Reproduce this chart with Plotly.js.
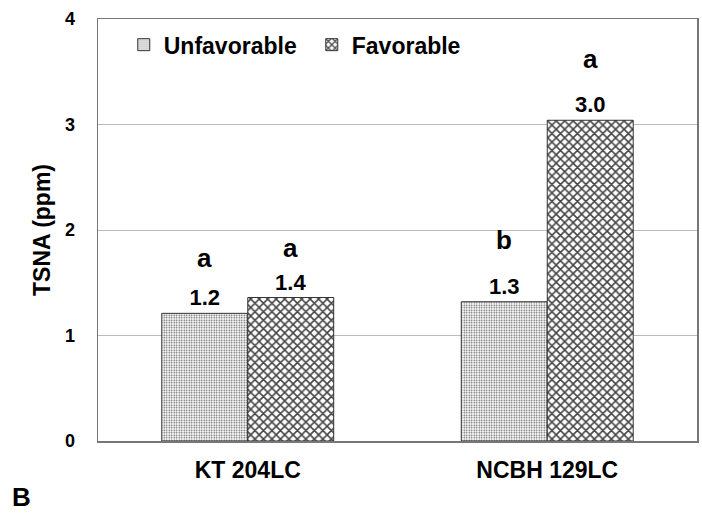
<!DOCTYPE html>
<html>
<head>
<meta charset="utf-8">
<script src="https://cdn.plot.ly/plotly-3.0.1.min.js"></script>
<style>html,body{margin:0;padding:0;background:#fff;}#chart{width:702px;height:520px;}</style>
</head>
<body>
<div id="chart"></div>
<script>
const categories = ["KT 204LC", "NCBH 129LC"];
const unfavorable = [1.21, 1.32];
const favorable = [1.36, 3.04];
const unfavLabels = ["1.2", "1.3"];
const favLabels = ["1.4", "3.0"];
const unfavLetters = ["a", "b"];
const favLetters = ["a", "a"];
const yTicks = [0, 1, 2, 3, 4];

const FONT = "Liberation Sans, Arial, sans-serif";

const traces = [
  {
    type: "bar", name: "Unfavorable", x: categories, y: unfavorable,
    text: unfavLabels, textposition: "outside",
    textfont: {family: FONT, size: 22, color: "#000", weight: "bold"},
    cliponaxis: false,
    marker: {color: "#fff", line: {color: "#333", width: 1},
      pattern: {shape: ".", size: 2.5, solidity: 0.3, fgcolor: "#555", bgcolor: "#fff"}}
  },
  {
    type: "bar", name: "Favorable", x: categories, y: favorable,
    text: favLabels, textposition: "outside",
    textfont: {family: FONT, size: 22, color: "#000", weight: "bold"},
    cliponaxis: false,
    marker: {color: "#fff", line: {color: "#333", width: 1},
      pattern: {shape: "x", size: 6, solidity: 0.45, fgcolor: "#444", bgcolor: "#fff"}}
  }
];

const unfavShift = [40, 47];
const favShift = [35, 46];
const annotations = [];
categories.forEach((c, i) => {
  annotations.push({x: c, y: unfavorable[i], xref: "x", yref: "y", text: unfavLetters[i],
    showarrow: false, xshift: -43, yshift: unfavShift[i] + 15,
    font: {family: FONT, size: 26, color: "#000", weight: "bold"}});
  annotations.push({x: c, y: favorable[i], xref: "x", yref: "y", text: favLetters[i],
    showarrow: false, xshift: 43, yshift: favShift[i] + 15,
    font: {family: FONT, size: 26, color: "#000", weight: "bold"}});
});
annotations.push({x: 0, y: 0, xref: "paper", yref: "paper", xanchor: "left", yanchor: "middle",
  xshift: -88, yshift: -56, text: "B", showarrow: false,
  font: {family: FONT, size: 26, color: "#000", weight: "bold"}});

const layout = {
  width: 702, height: 520,
  margin: {l: 98, r: 5, t: 19, b: 79},
  paper_bgcolor: "#fff", plot_bgcolor: "#fff",
  barmode: "group", bargap: 0.426, bargroupgap: 0,
  font: {family: FONT, color: "#000"},
  showlegend: true,
  legend: {orientation: "h", x: 0.043, y: 0.99, xanchor: "left", yanchor: "top",
    font: {family: FONT, size: 23, color: "#000", weight: "bold"}, bgcolor: "rgba(0,0,0,0)",
    itemwidth: 30, tracegroupgap: 0, entrywidth: 143, entrywidthmode: "pixels"},
  xaxis: {showline: true, mirror: true, linecolor: "#777", linewidth: 1.5, ticks: "", showgrid: false,
    tickfont: {family: FONT, size: 23, color: "#000", weight: "bold"}, ticklabelstandoff: 8},
  yaxis: {range: [0, 4], tickvals: yTicks, showline: true, mirror: true, linecolor: "#777", linewidth: 1.5,
    showgrid: true, gridcolor: "#bbb", gridwidth: 1, zeroline: false, ticks: "",
    tickfont: {family: FONT, size: 18, color: "#000", weight: "bold"}, ticklabelstandoff: 18,
    title: {text: "TSNA (ppm)", font: {family: FONT, size: 23, color: "#000", weight: "bold"}, standoff: 8}},
  annotations: annotations
};

Plotly.newPlot("chart", traces, layout, {staticPlot: true, displayModeBar: false});
</script>
</body>
</html>
